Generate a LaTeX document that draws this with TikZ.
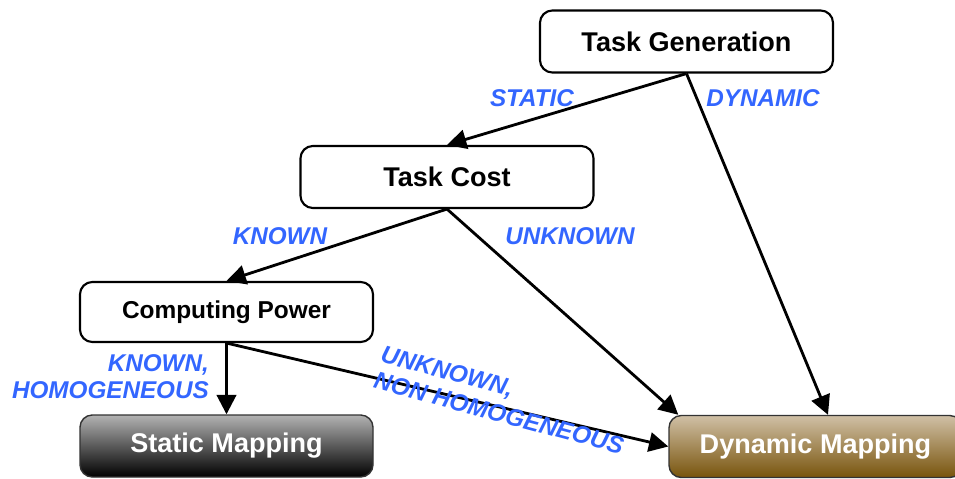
\documentclass[tikz,border=0pt]{standalone}
\usepackage{fontspec}
\setmainfont{Liberation Sans}
\usetikzlibrary{arrows.meta}

\definecolor{labelblue}{RGB}{51,102,255}
\definecolor{browntop}{RGB}{208,192,166}
\definecolor{brownbot}{RGB}{120,84,12}

\tikzset{
    stepbox/.style={draw=black, line width=1.2pt, rounded corners=7pt, fill=white,
        minimum width=5.86cm, minimum height=1.24cm, inner sep=0pt,
        font=\fontsize{15.4}{18}\selectfont\bfseries},
    endbox/.style={stepbox, draw=black!80, line width=0.8pt, text=white},
    flow/.style={line width=1.6pt, -{Triangle[length=11pt,width=11pt]}},
    choice/.style={text=labelblue, font=\fontsize{13.8}{15.5}\selectfont\bfseries\itshape}
}

\begin{document}
\begin{tikzpicture}
    \useasboundingbox (0,0) rectangle (19.1,-9.58);

    % Draw decision boxes
    \node[stepbox] (tg) at (13.73,-0.83) {Task Generation};
    \node[stepbox] (tc) at (8.94,-3.54) {Task Cost};
    \node[stepbox, minimum height=1.2cm, font=\fontsize{13.9}{16}\selectfont\bfseries] (cp) at (4.53,-6.24) {Computing Power};

    % Draw mapping results
    \node[endbox, top color=black!30, bottom color=black] (sm) at (4.53,-8.92) {Static Mapping};
    \node[endbox, top color=browntop, bottom color=brownbot] (dm) at (16.31,-8.93) {Dynamic Mapping};

    % Draw connectors
    \draw[flow] (tg.south) -- (tc.north);
    \draw[flow] (tg.south) -- ([xshift=0.25cm]dm.north);
    \draw[flow] (tc.south) -- (cp.north);
    \draw[flow] (tc.south) -- ([xshift=0.2cm]dm.north west);
    \draw[flow] (cp.south) -- (sm.north);
    \draw[flow] (cp.south) -- (dm.west);

    % Add labels
    \node[choice] (lstatic) at (10.64,-1.96) {STATIC};
    \node[choice] (ldynamic) at (15.26,-1.96) {DYNAMIC};
    \node[choice] (lknown) at (5.6,-4.72) {KNOWN};
    \node[choice] (lunknown) at (11.4,-4.72) {UNKNOWN};
    \node[choice, align=right, anchor=east] (lhomog) at (4.3,-7.53) {KNOWN,\\HOMOGENEOUS};
    \node[choice, align=left, rotate=-15] (lnonhomog) at (10.05,-8.0) {UNKNOWN,\\NON HOMOGENEOUS};
\end{tikzpicture}
\end{document}
